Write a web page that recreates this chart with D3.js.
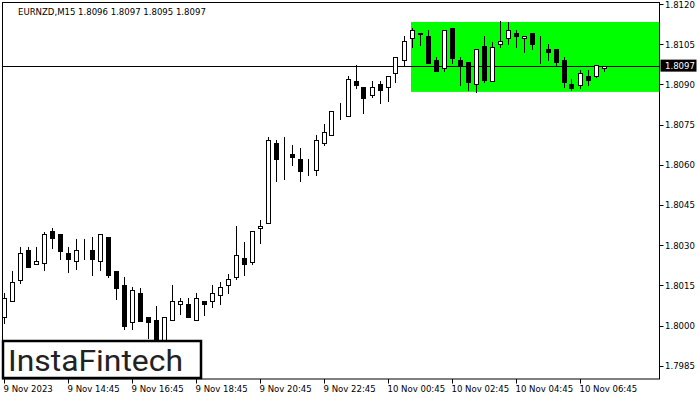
<!DOCTYPE html>
<html>
<head>
<meta charset="utf-8">
<script src="https://cdn.jsdelivr.net/npm/d3@7"></script>
<style>
  html, body { margin: 0; padding: 0; background: #ffffff; }
  svg { display: block; }
</style>
</head>
<body>
<svg id="chart" width="700" height="400"></svg>
<script>
// ---------------- DATA ----------------
const symbolTitle = "EURNZD,M15  1.8096 1.8097 1.8095 1.8097";
const opens  = [1.80032,1.80092,1.80170,1.80282,1.80230,1.80233,1.80353,1.80342,1.80271,1.80241,
                1.80293,1.80282,1.80241,1.80330,1.80204,1.80151,1.80013,1.80121,1.80032,1.80021,
                1.79942,1.80021,1.80080,1.80080,1.80021,1.80092,1.80092,1.80114,1.80151,1.80181,
                1.80252,1.80237,1.80364,1.80383,1.80681,1.80633,1.80640,1.80622,1.80592,1.80580,
                1.80681,1.80711,1.80793,1.80782,1.80913,1.80890,1.80860,1.80901,1.80890,1.80942,
                1.80991,1.81073,1.81092,1.81081,1.80991,1.80961,1.81110,1.80991,1.80984,1.80901,
                1.81043,1.80913,1.81051,1.81073,1.81092,1.81073,1.81092,1.81043,1.81032,1.81032,
                1.80991,1.80901,1.80898,1.80931,1.80931,1.80960];
const highs  = [1.80121,1.80204,1.80293,1.80293,1.80293,1.80349,1.80364,1.80342,1.80293,1.80323,
                1.80323,1.80330,1.80342,1.80330,1.80204,1.80181,1.80144,1.80140,1.80032,1.80073,
                1.80032,1.80151,1.80103,1.80103,1.80121,1.80092,1.80151,1.80162,1.80192,1.80372,
                1.80312,1.80353,1.80394,1.80704,1.80692,1.80704,1.80674,1.80663,1.80622,1.80711,
                1.80752,1.80801,1.80830,1.80931,1.80972,1.80890,1.80913,1.80913,1.80931,1.81002,
                1.81081,1.81110,1.81092,1.81103,1.81002,1.81103,1.81110,1.81002,1.80984,1.81032,
                1.81081,1.81058,1.81137,1.81133,1.81103,1.81081,1.81092,1.81081,1.81051,1.81032,
                1.81002,1.80920,1.80954,1.80954,1.80972,1.80970];
const lows   = [1.80010,1.80092,1.80159,1.80218,1.80230,1.80207,1.80289,1.80248,1.80200,1.80211,
                1.80248,1.80189,1.80207,1.80181,1.80099,1.79987,1.79987,1.80017,1.79954,1.79927,
                1.79939,1.80021,1.80043,1.80032,1.80021,1.80039,1.80069,1.80080,1.80121,1.80174,
                1.80189,1.80230,1.80308,1.80383,1.80539,1.80547,1.80599,1.80539,1.80562,1.80562,
                1.80674,1.80711,1.80771,1.80782,1.80887,1.80793,1.80853,1.80830,1.80838,1.80909,
                1.80972,1.81040,1.81047,1.80980,1.80950,1.80950,1.80980,1.80898,1.80879,1.80872,
                1.80909,1.80913,1.81040,1.81051,1.81040,1.81021,1.81032,1.80980,1.80991,1.80972,
                1.80890,1.80879,1.80887,1.80898,1.80928,1.80950];
const closes = [1.80103,1.80162,1.80271,1.80218,1.80241,1.80342,1.80327,1.80278,1.80248,1.80282,
                1.80293,1.80248,1.80342,1.80189,1.80140,1.79998,1.80133,1.80017,1.80013,1.79939,
                1.80032,1.80092,1.80092,1.80032,1.80103,1.80080,1.80121,1.80144,1.80174,1.80263,
                1.80230,1.80353,1.80372,1.80692,1.80622,1.80633,1.80629,1.80577,1.80592,1.80692,
                1.80722,1.80801,1.80793,1.80920,1.80898,1.80849,1.80890,1.80879,1.80931,1.81002,
                1.81062,1.81103,1.81088,1.80980,1.80950,1.81103,1.80998,1.80972,1.80909,1.81032,
                1.80916,1.81040,1.81062,1.81103,1.81081,1.81081,1.81051,1.81043,1.81021,1.80984,
                1.80909,1.80887,1.80942,1.80916,1.80972,1.80970];
const timeTickIndex  = [0, 8, 16, 24, 32, 40, 48, 56, 64, 72];
const timeTickLabels = ["9 Nov 2023","9 Nov 14:45","9 Nov 16:45","9 Nov 18:45","9 Nov 20:45",
                        "9 Nov 22:45","10 Nov 00:45","10 Nov 02:45","10 Nov 04:45","10 Nov 06:45"];
const priceTicks = [1.8120,1.8105,1.8090,1.8075,1.8060,1.8045,1.8030,1.8015,1.8000,1.7985];
const currentPrice = 1.8097;
const patternStartIndex = 51;
const patternRange = [1.80872, 1.81133];
const logoText = "InstaFintech";

// ---------------- LAYOUT ----------------
const frame = { left: 3, right: 659, top: 3, bottom: 378.5 };
const svg = d3.select("#chart");
const n = closes.length;
const x = d3.scaleLinear().domain([0, n - 1]).range([3.5, 3.5 + 8 * (n - 1)]);
const y = d3.scaleLinear().domain([1.7985, 1.8120]).range([365.7, 4]);
const font = "'DejaVu Sans Condensed', 'Liberation Sans', Arial, sans-serif";

svg.append("rect").attr("x", 0).attr("y", 0).attr("width", 700).attr("height", 400).attr("fill", "#fff");

svg.append("clipPath").attr("id", "plotclip").append("rect")
  .attr("x", frame.left).attr("y", frame.top)
  .attr("width", frame.right - frame.left).attr("height", frame.bottom - frame.top);

const plot = svg.append("g").attr("clip-path", "url(#plotclip)");

// pattern rectangle
plot.append("rect")
  .attr("x", x(patternStartIndex) - 0.5)
  .attr("y", y(patternRange[1]))
  .attr("width", frame.right - (x(patternStartIndex) - 0.5))
  .attr("height", y(patternRange[0]) - y(patternRange[1]))
  .attr("fill", "#00ff00");

// current price line
plot.append("line")
  .attr("x1", frame.left).attr("x2", frame.right)
  .attr("y1", Math.round(y(currentPrice)) + 0.5).attr("y2", Math.round(y(currentPrice)) + 0.5)
  .attr("stroke", "#000").attr("stroke-width", 1);

// candles
const data = d3.range(n).map(i => ({ i, o: opens[i], h: highs[i], l: lows[i], c: closes[i] }));
const cg = plot.append("g").selectAll("g").data(data).join("g");
const px = d => Math.round(x(d.i)) + 0.5;
cg.append("line")
  .attr("x1", px).attr("x2", px)
  .attr("y1", d => Math.round(y(d.h))).attr("y2", d => Math.round(y(d.l)) + 1)
  .attr("stroke", "#000").attr("stroke-width", 1);
cg.append("rect")
  .attr("x", d => px(d) - 2)
  .attr("y", d => Math.round(y(Math.max(d.o, d.c))) + 0.5)
  .attr("width", 4)
  .attr("height", d => Math.max(0, Math.round(y(Math.min(d.o, d.c))) - Math.round(y(Math.max(d.o, d.c)))))
  .attr("fill", d => d.c >= d.o ? "#fff" : "#000")
  .attr("stroke", "#000").attr("stroke-width", 1);

// frame
svg.append("rect")
  .attr("x", frame.left - 0.5).attr("y", frame.top - 0.5)
  .attr("width", frame.right - frame.left + 1).attr("height", frame.bottom - frame.top + 1)
  .attr("fill", "none").attr("stroke", "#000").attr("stroke-width", 1);

// title
svg.append("text")
  .attr("x", 18).attr("y", 15)
  .attr("font-family", font).attr("font-size", "9.5px").attr("fill", "#000")
  .text(symbolTitle);

// price axis
const pAxis = svg.append("g");
pAxis.selectAll("line").data(priceTicks).join("line")
  .attr("x1", frame.right + 0.5).attr("x2", frame.right + 4.5)
  .attr("y1", d => Math.round(y(d)) + 0.5).attr("y2", d => Math.round(y(d)) + 0.5)
  .attr("stroke", "#000");
pAxis.selectAll("text").data(priceTicks).join("text")
  .attr("x", 665).attr("y", d => y(d) + 3.5)
  .attr("font-family", font).attr("font-size", "9.5px").attr("fill", "#000")
  .text(d => d.toFixed(4));

// current price label
svg.append("rect")
  .attr("x", 660.5).attr("y", y(currentPrice) - 6)
  .attr("width", 36).attr("height", 12).attr("fill", "#000");
svg.append("text")
  .attr("x", 665).attr("y", y(currentPrice) + 3.5)
  .attr("font-family", font).attr("font-size", "9.5px").attr("fill", "#fff")
  .text(currentPrice.toFixed(4));

// time axis
const tAxis = svg.append("g");
tAxis.selectAll("line").data(timeTickIndex).join("line")
  .attr("x1", d => Math.round(x(d)) + 0.5).attr("x2", d => Math.round(x(d)) + 0.5)
  .attr("y1", frame.bottom + 0.5).attr("y2", frame.bottom + 5)
  .attr("stroke", "#000");
tAxis.selectAll("text").data(timeTickIndex).join("text")
  .attr("x", d => Math.round(x(d)) - 0.5).attr("y", 392)
  .attr("font-family", font).attr("font-size", "9.5px").attr("fill", "#000")
  .text((d, k) => timeTickLabels[k]);

// logo
svg.append("rect")
  .attr("x", 3).attr("y", 341).attr("width", 198).attr("height", 37)
  .attr("fill", "#fff").attr("stroke", "#000").attr("stroke-width", 2.5);
svg.append("text")
  .attr("x", 8).attr("y", 371)
  .attr("font-family", "Roboto, 'Open Sans', sans-serif").attr("font-size", "30px")
  .attr("font-weight", 400)
  .attr("fill", "#222")
  .attr("textLength", 175).attr("lengthAdjust", "spacingAndGlyphs")
  .text(logoText);
</script>
</body>
</html>
